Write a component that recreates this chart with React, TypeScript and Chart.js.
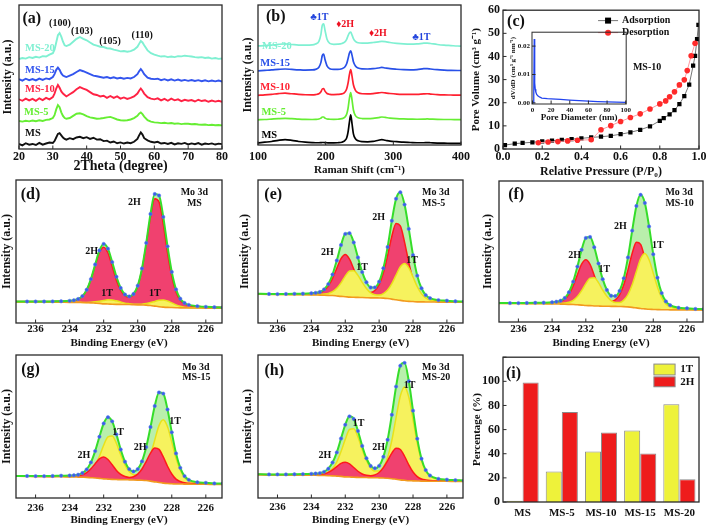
import React, { useEffect, useRef } from 'react';
import { Chart, registerables } from 'chart.js';

Chart.register(...registerables);

const F = '"Liberation Serif", "Times New Roman", serif';
Chart.defaults.font.family = F;
Chart.defaults.color = '#111';

// ---------------- (a) XRD ----------------
const XRD_X = [20,21,22,23,24,25,26,27,28,29,30,30.5,31,31.5,32,32.5,33,33.5,34,35,36,37,38,39,40,41,42,43,44,45,46,47,48,49,50,51,52,53,54,55,55.5,56,56.5,57,58,59,60,61,62,63,64,65,66,67,68,69,70,71,72,73,74,75,76,77,78,79,80];
const XRD_MS = [3.5,2.5,4,3,3.5,2.8,4.2,3,3.8,4.5,4.2,5.5,8,10.5,11,9.5,8,7,6.5,7.5,6.8,8,8.5,7.5,8.2,7,7.8,6.5,6.8,5.5,5.8,4.5,5.2,4,4.6,3.8,4.5,4,5,7,9.5,11.5,10,7.5,6,5,4.5,5,3.8,4.2,3.5,4.3,3.2,4,3.6,4.2,3.2,3.9,3.3,4.1,3,3.8,3.4,3.9,3.1,3.7,3.4];
const XRD_MS5 = [19.5,19,19.6,19.2,19.8,19.3,19.9,19.5,20.2,20.5,21.5,23.5,27.5,30.5,29,25.5,23,21.5,21,21.5,23,24.5,24.8,24,22.8,22,21.5,21,21.2,21.5,22,22.3,21.5,20.5,20,19.8,20,20.5,21.5,23,24.5,25.3,24.2,22.5,20,19,18.5,18.3,18,18.2,17.8,18,17.5,17.8,17.3,17.6,17.5,17.2,17.4,17,16.8,17,16.6,16.8,16.5,16.7,16.4];
const XRD_MS10 = [34.5,33.5,35,33.8,34.8,33.5,35.2,34,35.5,34.5,36,38.5,42,44.5,42.5,40,38.5,37.5,36.5,38,39.5,41.5,43,42,41,39.5,38,37.5,36.5,37,35.5,36.8,35.5,36.5,35,35.8,34.8,35.5,36.5,38.5,40.5,42,40.5,38.5,36,35,34.5,35.2,33.8,34.8,33.5,35,33.8,34.5,33.2,34.2,33.5,34,33,34.2,33.3,33.8,32.8,33.6,32.9,33.5,32.8];
const XRD_MS15 = [48.5,47.5,48.8,47.8,48.6,47.6,48.9,48,49,48.5,50,52,55,56.5,55,52.5,51,50.5,50,51,52,53.5,54.8,54,53,52,51,50.5,50,49.5,50,49.2,49.8,49,49.5,48.8,49.4,49,50,52,54,55.5,54,52,49.5,48.8,48.5,48.8,47.8,48.5,47.6,48.4,47.5,48.2,47.4,48,47.3,47.9,47.2,47.8,47.1,47.7,47,47.6,47,47.5,46.9];
const XRD_MS20 = [62.5,63.2,62.8,63.8,63.2,64,63.5,64.5,64.2,65.5,66.5,69,74,79,80.5,78,74.5,72,71.5,72.5,74.5,76.5,77.8,76.5,75.5,74,72.5,71.8,71,70.8,70,69.8,69,68.5,67.8,68,67.5,68,69,71,73,75,74,72,68.5,66.5,65.5,64.8,64.2,64.5,63.8,64.2,63.8,64.5,64.3,64.8,64.5,64.2,63.8,63.5,63.8,63.2,63.5,62.8,63.2,62.6,62.8];

// ---------------- (b) Raman ----------------
const RAMAN_X = [100,110,120,130,140,150,160,170,180,185,190,193,195,197,199,202,206,212,218,224,228,231,233,235,237,239,241,244,248,254,262,270,278,283,288,295,305,315,325,335,345,350,355,365,375,385,395,400];
const RAMAN_MS = [1.5,2,2.5,3.3,3.8,3.3,2.5,2,1.7,1.6,1.6,1.7,1.8,1.8,1.7,1.6,1.5,1.5,1.6,2,3,5,9,16,21.5,15,8,4.5,3,2.4,2.3,2.6,3.4,3.8,3.4,2.8,2.4,2,1.8,1.6,1.6,1.7,1.6,1.4,1.3,1.2,1.1,1.1];
const RAMAN_MS5 = [18,18.2,18.5,18.8,19,18.8,18.5,18.3,18.2,18.3,18.6,19.2,20,20,19.2,18.6,18.4,18.3,18.4,18.8,19.8,22,26,33,37.5,32,25,21,19.5,18.9,18.8,19,19.6,20,19.7,19.2,18.8,18.6,18.5,18.4,18.5,18.6,18.5,18.3,18.2,18.2,18.1,18.1];
const RAMAN_MS10 = [35.5,35.8,36.2,36.7,37,36.6,36.2,35.9,35.8,36,36.6,38,40,40.3,38.5,36.8,36.2,36,36.1,36.5,37.5,40,44,50,53.8,49,43,39,37.3,36.6,36.5,36.7,37.2,37.5,37.2,36.8,36.4,36.2,36.1,36.2,36.5,36.6,36.4,36,35.8,35.7,35.6,35.6];
const RAMAN_MS15 = [53,53.3,53.6,54,54.3,54,53.7,53.5,53.6,54,55.5,59,64,65,61,56.5,54.5,54,54,54.5,55.5,58,61.5,65.5,67.3,64,59.5,56.5,55,54.4,54.3,54.5,55,55.4,55,54.5,54.1,53.8,53.7,53.9,54.5,54.6,54.3,53.8,53.5,53.3,53.2,53.2];
const RAMAN_MS20 = [70.8,71,71.4,71.9,72.2,71.8,71.4,71.3,71.5,72.2,74,79,85.5,86.5,82,75.5,72.6,71.9,72,72.5,73.5,75.5,78,80,80.6,78.5,76,74,73,72.7,72.8,73.2,73.7,74,73.8,73.2,72.6,72.2,72,72.2,72.7,72.8,72.5,71.8,71.3,71,70.7,70.6];

// ---------------- (c) BET ----------------
const ADS_P = [0.01,0.06,0.1,0.15,0.2,0.25,0.3,0.35,0.4,0.45,0.5,0.55,0.6,0.65,0.7,0.75,0.8,0.82,0.85,0.875,0.9,0.925,0.95,0.97,0.98,0.99,0.997];
const ADS_V = [1.7,2.3,2.6,2.9,3.3,3.6,3.9,4.3,4.6,5.0,5.3,5.7,6.4,7.2,8.3,9.8,12.2,13.3,15.0,16.8,19.4,22.9,27.8,36.0,40.3,47.5,53.7];
const DES_P = [0.18,0.23,0.28,0.33,0.38,0.45,0.5,0.55,0.6,0.65,0.7,0.75,0.8,0.83,0.85,0.875,0.9,0.925,0.94,0.96,0.98];
const DES_V = [2.7,3.0,3.2,3.5,3.8,4.0,8.3,10.1,11.9,13.6,15.2,17.3,19.5,20.8,22.6,24.7,27.7,29.9,33.9,40.3,45.7];
const PSD_D = [0.8,1.2,1.6,1.9,2.2,2.6,3.0,3.6,4.5,6,8,10,13,16,20,25,30,40,50,60,70,80,90,100];
const PSD_V = [0.0,0.0,0.003,0.0225,0.016,0.007,0.0048,0.0038,0.003,0.0024,0.002,0.0017,0.0016,0.0015,0.0014,0.0013,0.0012,0.001,0.0008,0.0006,0.00045,0.00035,0.00025,0.0002];

// ---------------- (d)-(h) XPS Mo 3d ----------------
const XPS_X = [237.25,236.5,236,235.5,235,234.5,234,233.75,233.5,233.25,233,232.75,232.5,232.25,232,231.75,231.5,231.25,231,230.75,230.5,230.25,230,229.75,229.5,229.25,229,228.75,228.5,228.25,228,227.75,227.5,227.25,227,226.5,226,225.5,225];
const BASE_MS = [14.8,14.7,14.7,14.6,14.6,14.5,14.4,14.4,14.4,14.3,14.2,14.1,13.9,13.7,13.4,13.3,13.1,13.0,13.0,12.9,12.9,12.8,12.7,12.6,12.5,12.2,11.8,11.4,11.1,10.9,10.8,10.7,10.6,10.6,10.5,10.5,10.4,10.4,10.4];
const H2_MS = [0.2,0.3,0.3,0.4,0.5,0.7,1.0,1.4,2.3,4.4,8.8,16.2,26.1,35.5,39.6,35.8,26.5,16.8,9.8,6.0,5.1,7.1,13.0,24.9,42.4,61.9,75.1,73.3,58.1,38.2,21.6,10.8,5.3,2.9,1.9,1.2,0.8,0.6,0.5];
const T1_MS = [0,0,0,0,0,0,0.1,0.1,0.1,0.1,0.2,0.4,0.9,1.5,2.3,2.9,3.0,2.5,1.7,1.0,0.6,0.4,0.4,0.6,1.1,2.1,3.3,4.5,5.0,4.5,3.3,2.0,1.1,0.5,0.3,0.1,0.1,0.1,0];
const BASE_MS5 = [20.1,20.0,19.9,19.9,19.8,19.8,19.7,19.6,19.5,19.4,19.3,19.2,18.9,18.6,18.4,18.1,18.0,17.9,17.8,17.7,17.6,17.6,17.5,17.4,17.1,16.7,16.2,15.8,15.4,15.1,15.0,14.8,14.8,14.7,14.7,14.6,14.6,14.5,14.5];
const H2_MS5 = [0.2,0.2,0.2,0.3,0.4,0.5,0.8,1.1,1.7,3.3,6.5,12.0,19.4,26.4,29.5,26.5,19.7,12.5,7.2,4.4,3.7,5.1,9.3,17.7,30.1,44.0,53.4,52.1,41.2,27.2,15.3,7.7,3.8,2.0,1.3,0.8,0.6,0.4,0.3];
const T1_MS5 = [0.1,0.1,0.1,0.1,0.2,0.2,0.3,0.4,0.5,0.8,1.4,2.7,5.4,9.5,14.4,18.2,18.6,15.4,10.6,6.4,3.5,2.2,2.1,3.2,5.9,10.8,17.3,23.5,26.2,23.5,17.2,10.6,5.7,2.8,1.4,0.6,0.4,0.3,0.2];
const BASE_MS10 = [13.2,13.1,13.1,13.0,13.0,12.9,12.8,12.8,12.7,12.6,12.5,12.4,12.2,12.0,11.7,11.6,11.4,11.3,11.2,11.2,11.1,11.1,11.0,10.9,10.7,10.4,10.0,9.6,9.3,9.0,8.9,8.8,8.7,8.7,8.6,8.6,8.6,8.5,8.5];
const H2_MS10 = [0.2,0.2,0.2,0.3,0.4,0.5,0.8,1.1,1.8,3.5,7.1,13.2,21.3,29.0,32.4,29.2,21.6,13.6,7.7,4.5,3.5,4.6,8.2,15.5,26.3,38.4,46.5,45.4,35.9,23.7,13.4,6.7,3.3,1.8,1.2,0.7,0.5,0.4,0.3];
const T1_MS10 = [0.1,0.1,0.1,0.2,0.2,0.3,0.4,0.5,0.6,0.9,1.5,3.0,5.8,10.2,15.5,19.5,20.0,16.6,11.5,7.0,4.0,2.7,2.8,4.6,8.8,16.0,25.8,35.2,39.2,35.1,25.7,15.9,8.5,4.1,2.1,0.8,0.6,0.4,0.3];
const BASE_MS15 = [15.2,15.1,15.0,15.0,14.9,14.9,14.7,14.7,14.6,14.5,14.4,14.2,14.0,13.7,13.4,13.2,13.0,12.9,12.8,12.8,12.7,12.6,12.5,12.4,12.2,11.8,11.3,10.8,10.4,10.1,10.0,9.8,9.8,9.7,9.7,9.6,9.6,9.5,9.5];
const H2_MS15 = [0.1,0.1,0.1,0.1,0.2,0.3,0.4,0.5,0.9,1.7,3.3,6.2,10.0,13.6,15.2,13.7,10.2,6.4,3.7,2.2,1.7,2.3,4.2,7.9,13.4,19.6,23.7,23.2,18.3,12.1,6.8,3.4,1.7,0.9,0.6,0.4,0.3,0.2,0.2];
const T1_MS15 = [0.1,0.2,0.2,0.2,0.3,0.4,0.6,0.7,0.8,1.3,2.3,4.5,8.8,15.5,23.5,29.6,30.4,25.2,17.4,10.4,5.8,3.7,3.5,5.3,10.0,18.2,29.3,39.8,44.3,39.7,29.1,18.0,9.6,4.7,2.4,1.0,0.7,0.5,0.4];
const BASE_MS20 = [16.3,16.2,16.2,16.1,16.1,16.0,15.9,15.9,15.8,15.7,15.6,15.5,15.3,15.1,14.8,14.7,14.5,14.4,14.3,14.3,14.2,14.2,14.1,14.0,13.8,13.5,13.1,12.7,12.4,12.1,12.0,11.9,11.8,11.8,11.7,11.7,11.7,11.6,11.6];
const H2_MS20 = [0.1,0.1,0.1,0.1,0.1,0.2,0.3,0.4,0.6,1.1,2.3,4.2,6.7,9.1,10.2,9.2,6.8,4.3,2.5,1.6,1.4,2.0,3.7,7.2,12.3,17.9,21.7,21.2,16.8,11.1,6.2,3.1,1.5,0.8,0.5,0.3,0.2,0.2,0.1];
const T1_MS20 = [0.2,0.2,0.2,0.3,0.4,0.5,0.7,0.8,1.0,1.5,2.6,5.1,9.9,17.4,26.2,33.2,34.0,28.2,19.6,11.9,6.8,4.6,4.7,7.6,14.6,26.8,43.1,58.6,65.3,58.5,42.9,26.5,14.2,6.9,3.5,1.4,0.9,0.7,0.5];

// ---------------- (i) phase percentage ----------------
const SAMPLES = ['MS', 'MS-5', 'MS-10', 'MS-15', 'MS-20'];
const PCT_1T = [1, 25.3, 41.8, 59.2, 81];
const PCT_2H = [99, 74.5, 57.5, 40.2, 18.8];

// ---------------- helpers ----------------
type Geo = { l: number; t: number; w: number; h: number; x0: number; x1: number; y0: number; y1: number };
type Txt = { t: string; x: number; y: number; c?: string; s?: number; a?: CanvasTextAlign };

const GA: Geo = { l: 1, t: 0, w: 232, h: 175, x0: 19, x1: 222, y0: 5, y1: 149 };
const GB: Geo = { l: 241, t: 0, w: 234, h: 177, x0: 258, x1: 463, y0: 5, y1: 145 };
const GC: Geo = { l: 470, t: 0, w: 239, h: 179, x0: 503, x1: 699, y0: 5, y1: 149 };
const GIN: Geo = { l: 509, t: 26, w: 124, h: 97, x0: 532, x1: 627, y0: 31, y1: 104 };
const GD: Geo = { l: 0, t: 172, w: 232, h: 178, x0: 16, x1: 222, y0: 180, y1: 323 };
const GE: Geo = { l: 238, t: 172, w: 237, h: 178, x0: 258, x1: 463, y0: 180, y1: 323 };
const GF: Geo = { l: 481, t: 172, w: 228, h: 178, x0: 499, x1: 703, y0: 181, y1: 322 };
const GG: Geo = { l: 0, t: 347, w: 232, h: 180, x0: 16, x1: 222, y0: 355, y1: 498 };
const GH: Geo = { l: 241, t: 347, w: 234, h: 180, x0: 258, x1: 463, y0: 355, y1: 498 };
const GI: Geo = { l: 471, t: 347, w: 238, h: 181, x0: 503, x1: 699, y0: 355, y1: 502 };

const fnt = (s: number) => ({ family: F, size: s, weight: 'bold' as any });

function makeDeco(spec: { texts?: Txt[]; tickX?: boolean; tickY?: boolean; keys?: any[]; boxes?: any[]; lw?: number }) {
  return {
    id: 'deco',
    afterDraw(chart: any) {
      const { ctx, chartArea: ca } = chart;
      const xs = chart.scales.x, ys = chart.scales.y;
      const X = (v: number) => xs.getPixelForValue(v);
      const Y = (v: number) => ys.getPixelForValue(v);
      ctx.save();
      (spec.boxes || []).forEach((b: any) => {
        const x0 = X(b.x0), x1 = X(b.x1), y0 = Y(b.y0), y1 = Y(b.y1);
        ctx.fillStyle = b.fill;
        ctx.fillRect(x0, y0, x1 - x0, y1 - y0);
        ctx.strokeStyle = '#8a8a8a';
        ctx.lineWidth = 1;
        ctx.strokeRect(x0, y0, x1 - x0, y1 - y0);
        ctx.fillStyle = '#111';
        ctx.font = `bold ${b.s || 11}px ${F}`;
        ctx.textAlign = 'left';
        ctx.textBaseline = 'middle';
        ctx.fillText(b.label, X(b.tx), Y(b.ty));
      });
      (spec.keys || []).forEach((k: any) => {
        const y = Y(k.y);
        ctx.strokeStyle = k.line;
        ctx.lineWidth = 1;
        ctx.beginPath();
        ctx.moveTo(X(k.x0), y);
        ctx.lineTo(X(k.x1), y);
        ctx.stroke();
        const mx = (X(k.x0) + X(k.x1)) / 2;
        ctx.fillStyle = k.mc;
        if (k.mk === 'rect') ctx.fillRect(mx - 3, y - 3, 6, 6);
        else { ctx.beginPath(); ctx.arc(mx, y, 3, 0, Math.PI * 2); ctx.fill(); }
        ctx.fillStyle = '#111';
        ctx.font = `bold ${k.s || 10}px ${F}`;
        ctx.textAlign = 'left';
        ctx.textBaseline = 'middle';
        ctx.fillText(k.label, X(k.tx), y);
      });
      (spec.texts || []).forEach((t) => {
        ctx.font = `bold ${t.s || 10}px ${F}`;
        ctx.fillStyle = t.c || '#111';
        ctx.textAlign = t.a || 'center';
        ctx.textBaseline = 'middle';
        ctx.fillText(t.t, X(t.x), Y(t.y));
      });
      ctx.strokeStyle = '#2a2a2a';
      ctx.lineWidth = spec.lw || 1.3;
      ctx.strokeRect(ca.left, ca.top, ca.right - ca.left, ca.bottom - ca.top);
      ctx.lineWidth = 1;
      if (spec.tickX) {
        xs.ticks.forEach((tk: any) => {
          const p = X(tk.value);
          ctx.beginPath(); ctx.moveTo(p, ca.bottom); ctx.lineTo(p, ca.bottom - 3.5); ctx.stroke();
        });
      }
      if (spec.tickY) {
        ys.ticks.forEach((tk: any) => {
          const p = Y(tk.value);
          ctx.beginPath(); ctx.moveTo(ca.left, p); ctx.lineTo(ca.left + 3.5, p); ctx.stroke();
        });
      }
      ctx.restore();
    },
  };
}

function xAxis(g: Geo, o: any) {
  const ticks: any = { font: fnt(o.ts), padding: o.tp, maxRotation: 0, autoSkip: false, color: '#111', includeBounds: false };
  if (o.step !== undefined) ticks.stepSize = o.step;
  if (o.cb) ticks.callback = o.cb;
  const ax: any = {
    type: o.type || 'linear',
    grid: { display: false, drawTicks: false },
    border: { display: false },
    ticks,
    title: { display: !!o.title, text: o.title || '', font: fnt(o.tts || 12), padding: 0, color: '#111' },
    afterFit: (s: any) => { s.height = g.t + g.h - g.y1; },
  };
  if (o.min !== undefined) ax.min = o.min;
  if (o.max !== undefined) ax.max = o.max;
  if (o.reverse) ax.reverse = true;
  return ax;
}

function yAxis(g: Geo, o: any) {
  const ticks: any = { display: !!o.showTicks, font: fnt(o.ts || 12), padding: o.tp || 3, color: '#111', includeBounds: false };
  if (o.step !== undefined) ticks.stepSize = o.step;
  if (o.cb) ticks.callback = o.cb;
  return {
    type: 'linear',
    min: o.min,
    max: o.max,
    grid: { display: false, drawTicks: false },
    border: { display: false },
    ticks,
    title: { display: true, text: o.title, font: fnt(o.tts || 12), padding: 0, color: '#111' },
    afterFit: (s: any) => { s.width = g.x0 - g.l; },
  };
}

function baseOptions(g: Geo, x: any, y: any) {
  return {
    responsive: false,
    animation: false,
    devicePixelRatio: 1,
    layout: { padding: { left: 0, top: g.y0 - g.t, right: g.l + g.w - g.x1, bottom: 0 } },
    plugins: { legend: { display: false }, tooltip: { enabled: false } },
    elements: { point: { radius: 0 } },
    scales: { x, y },
  };
}

const pts = (xs: number[], ys: number[]) => xs.map((x, i) => ({ x, y: ys[i] }));

const C_CYAN = '#7ff0d2';
const C_BLUE = '#3355ee';
const C_RED = '#ff2244';
const C_GREEN = '#66ee33';
const C_BLACK = '#111111';

// ---------------- chart configs ----------------
function makeA() {
  const series = [
    { d: XRD_MS20, c: C_CYAN }, { d: XRD_MS15, c: C_BLUE }, { d: XRD_MS10, c: C_RED },
    { d: XRD_MS5, c: C_GREEN }, { d: XRD_MS, c: C_BLACK },
  ];
  const texts: Txt[] = [
    { t: '(a)', x: 23.8, y: 90.3, s: 16 },
    { t: '(100)', x: 32.1, y: 87.5 },
    { t: '(103)', x: 38.6, y: 81.9 },
    { t: '(105)', x: 46.9, y: 75 },
    { t: '(110)', x: 56.4, y: 79.2 },
    { t: 'MS-20', x: 21.8, y: 70.1, c: C_CYAN, a: 'left', s: 10.5 },
    { t: 'MS-15', x: 21.8, y: 54.9, c: C_BLUE, a: 'left', s: 10.5 },
    { t: 'MS-10', x: 21.8, y: 41.7, c: C_RED, a: 'left', s: 10.5 },
    { t: 'MS-5', x: 21.5, y: 25.7, c: C_GREEN, a: 'left', s: 10.5 },
    { t: 'MS', x: 21.8, y: 11.1, c: C_BLACK, a: 'left', s: 10.5 },
  ];
  return {
    type: 'line',
    data: { datasets: series.map((s) => ({ data: pts(XRD_X, s.d), borderColor: s.c, borderWidth: 1.9, pointRadius: 0, tension: 0 })) },
    options: baseOptions(GA,
      xAxis(GA, { min: 20, max: 80, step: 10, ts: 12, tp: 1, title: '2Theta (degree)', tts: 14 }),
      yAxis(GA, { min: 0, max: 100, title: 'Intensity (a.u.)', tts: 12 })),
    plugins: [makeDeco({ texts, tickX: true })],
  };
}

function makeB() {
  const series = [
    { d: RAMAN_MS20, c: C_CYAN }, { d: RAMAN_MS15, c: '#2850e8' }, { d: RAMAN_MS10, c: '#ff2030' },
    { d: RAMAN_MS5, c: C_GREEN }, { d: RAMAN_MS, c: '#000000' },
  ];
  const texts: Txt[] = [
    { t: '(b)', x: 126.3, y: 91.4, s: 16 },
    { t: '\u26631T', x: 190.7, y: 91.4, c: '#2244dd' },
    { t: '\u26662H', x: 228.8, y: 86.1, c: '#ee1122' },
    { t: '\u26662H', x: 277.1, y: 79.5, c: '#ee1122' },
    { t: '\u26631T', x: 341.5, y: 77.1, c: '#2244dd' },
    { t: 'MS-20', x: 106, y: 70.2, c: C_CYAN, a: 'left', s: 10.5 },
    { t: 'MS-15', x: 103.5, y: 58.4, c: '#2850e8', a: 'left', s: 10.5 },
    { t: 'MS-10', x: 103.5, y: 41.1, c: '#ff2030', a: 'left', s: 10.5 },
    { t: 'MS-5', x: 105, y: 23.2, c: C_GREEN, a: 'left', s: 10.5 },
    { t: 'MS', x: 105, y: 7.1, c: '#000', a: 'left', s: 10.5 },
  ];
  return {
    type: 'line',
    data: { datasets: series.map((s) => ({ data: pts(RAMAN_X, s.d), borderColor: s.c, borderWidth: 1.7, pointRadius: 0, cubicInterpolationMode: 'monotone' })) },
    options: baseOptions(GB,
      xAxis(GB, { min: 100, max: 400, step: 100, ts: 12, tp: 5, title: 'Raman Shift (cm\u207B\u00B9)', tts: 11 }),
      yAxis(GB, { min: 0, max: 100, title: 'Intensity (a.u.)', tts: 12 })),
    plugins: [makeDeco({ texts, tickX: true })],
  };
}

function makeC() {
  const texts: Txt[] = [
    { t: '(c)', x: 0.066, y: 55.1, s: 16 },
    { t: 'MS-10', x: 0.735, y: 35.4, s: 10 },
  ];
  const keys = [
    { x0: 0.485, x1: 0.587, y: 55.5, line: '#777777', mk: 'rect', mc: '#000', label: 'Adsorption', tx: 0.607 },
    { x0: 0.485, x1: 0.587, y: 50.3, line: '#ff9aa0', mk: 'circle', mc: '#ff2a2a', label: 'Desorption', tx: 0.607 },
  ];
  return {
    type: 'line',
    data: {
      datasets: [
        { data: pts(DES_P, DES_V), borderColor: '#ff9aa0', borderWidth: 1, pointStyle: 'circle', pointRadius: 2.8, pointBackgroundColor: '#ff2a2a', pointBorderColor: '#ff2a2a', pointBorderWidth: 0 },
        { data: pts(ADS_P, ADS_V), borderColor: '#777777', borderWidth: 1, pointStyle: 'rect', pointRadius: 3, pointBackgroundColor: '#000', pointBorderColor: '#000', pointBorderWidth: 0 },
      ],
    },
    options: baseOptions(GC,
      xAxis(GC, { min: 0, max: 1, step: 0.2, ts: 12, tp: 1, title: 'Relative Pressure (P/P\u2080)', tts: 12, cb: (v: any) => Number(v).toFixed(1) }),
      yAxis(GC, { min: 0, max: 60, step: 10, showTicks: true, ts: 12, tp: 3, title: 'Pore Volume (cm\u00B3 g\u207B\u00B9)', tts: 11 })),
    plugins: [makeDeco({ texts, keys, tickX: true, tickY: true })],
  };
}

function makeInset() {
  return {
    type: 'line',
    data: { datasets: [{ data: pts(PSD_D, PSD_V), borderColor: '#2244ee', borderWidth: 1.3, pointRadius: 0 }] },
    options: baseOptions(GIN,
      xAxis(GIN, { min: -0.5, max: 100.5, step: 20, ts: 7, tp: 2, title: 'Pore Diameter (nm)', tts: 9 }),
      yAxis(GIN, { min: -0.0004, max: 0.0249, step: 0.01, showTicks: true, ts: 7, tp: 2, title: 'dV/dD (cm\u00B3 g\u207B\u00B9 nm\u207B\u00B9)', tts: 7, cb: (v: any) => Number(v).toFixed(2) })),
    plugins: [makeDeco({ tickX: true, tickY: true, lw: 1 })],
  };
}

function makeXps(g: Geo, base: number[], h2: number[], t1: number[], redOnTop: boolean, texts: Txt[], tp: number) {
  const red = base.map((b, i) => b + h2[i]);
  const yel = base.map((b, i) => b + t1[i]);
  const env = base.map((b, i) => b + h2[i] + t1[i]);
  const curve = { pointRadius: 0, cubicInterpolationMode: 'monotone' };
  return {
    type: 'line',
    data: {
      datasets: [
        { ...curve, data: pts(XPS_X, env), showLine: false, pointRadius: 1.7, pointBackgroundColor: '#3b5ee8', pointBorderColor: '#5a7cf2', pointBorderWidth: 0.5, order: 0 },
        { ...curve, data: pts(XPS_X, env), borderColor: '#35dd2a', borderWidth: 2, fill: false, order: 1 },
        { ...curve, data: pts(XPS_X, base), borderColor: '#f29a1e', borderWidth: 1.6, fill: false, order: 2 },
        { ...curve, data: pts(XPS_X, red), borderColor: '#ff1a1a', borderWidth: 1.5, backgroundColor: '#f0416f', fill: 2, order: redOnTop ? 3 : 4 },
        { ...curve, data: pts(XPS_X, yel), borderColor: '#e9e21a', borderWidth: 1.5, backgroundColor: '#f6f25e', fill: 2, order: redOnTop ? 4 : 3 },
        { ...curve, data: pts(XPS_X, env), borderColor: 'rgba(0,0,0,0)', borderWidth: 0, backgroundColor: '#b9efac', fill: 2, order: 5 },
      ],
    },
    options: baseOptions(g,
      xAxis(g, { min: 225.05, max: 237.15, reverse: true, step: 2, ts: 11, tp, title: 'Binding Energy (eV)', tts: 11 }),
      yAxis(g, { min: 0, max: 100, title: 'Intensity (a.u.)', tts: 12 })),
    plugins: [makeDeco({ texts, tickX: true })],
  };
}

const makeD = () => makeXps(GD, BASE_MS, H2_MS, T1_MS, false, [
  { t: '(d)', x: 236.3, y: 89.5, s: 16 },
  { t: 'Mo 3d', x: 226.67, y: 91.6 },
  { t: 'MS', x: 226.67, y: 83.9 },
  { t: '2H', x: 230.2, y: 84.6 },
  { t: '2H', x: 232.7, y: 50.3 },
  { t: '1T', x: 231.8, y: 21 },
  { t: '1T', x: 229.0, y: 21 },
], 0);

const makeE = () => makeXps(GE, BASE_MS5, H2_MS5, T1_MS5, false, [
  { t: '(e)', x: 236.25, y: 89.5, s: 16 },
  { t: 'Mo 3d', x: 227.47, y: 91.6, a: 'left' },
  { t: 'MS-5', x: 227.47, y: 83.9, a: 'left' },
  { t: '2H', x: 233.05, y: 49.5 },
  { t: '1T', x: 231.0, y: 39 },
  { t: '2H', x: 230.03, y: 74 },
  { t: '1T', x: 228.05, y: 44 },
], 0);

const makeF = () => makeXps(GF, BASE_MS10, H2_MS10, T1_MS10, false, [
  { t: '(f)', x: 236.13, y: 89.9, s: 16 },
  { t: 'Mo 3d', x: 227.28, y: 92, a: 'left' },
  { t: 'MS-10', x: 227.28, y: 84.2, a: 'left' },
  { t: '2H', x: 232.67, y: 47.3 },
  { t: '1T', x: 230.9, y: 37.4 },
  { t: '2H', x: 229.95, y: 67.9 },
  { t: '1T', x: 227.73, y: 54.4 },
], 1);

const makeG = () => makeXps(GG, BASE_MS15, H2_MS15, T1_MS15, true, [
  { t: '(g)', x: 236.3, y: 89.5, s: 16 },
  { t: 'Mo 3d', x: 227.39, y: 91.6, a: 'left' },
  { t: 'MS-15', x: 227.39, y: 84, a: 'left' },
  { t: '1T', x: 231.15, y: 45.6 },
  { t: '2H', x: 233.16, y: 29.5 },
  { t: '2H', x: 229.86, y: 35.1 },
  { t: '1T', x: 227.8, y: 53.9 },
], 4);

const makeH = () => makeXps(GH, BASE_MS20, H2_MS20, T1_MS20, true, [
  { t: '(h)', x: 236.19, y: 88.9, s: 16 },
  { t: 'Mo 3d', x: 227.47, y: 91.6, a: 'left' },
  { t: 'MS-20', x: 227.47, y: 84, a: 'left' },
  { t: '1T', x: 228.2, y: 79 },
  { t: '1T', x: 231.22, y: 52.5 },
  { t: '2H', x: 233.2, y: 29.5 },
  { t: '2H', x: 230.03, y: 35.1 },
], 3);

function makeI() {
  const boxes = [
    { x0: 3.35, x1: 3.89, y0: 114.3, y1: 105.3, fill: '#eef23a', label: '1T', tx: 4.02, ty: 109.8 },
    { x0: 3.35, x1: 3.89, y0: 103.7, y1: 95.5, fill: '#ee1c1c', label: '2H', tx: 4.02, ty: 99.6 },
  ];
  return {
    type: 'bar',
    data: {
      labels: SAMPLES,
      datasets: [
        { data: PCT_1T, backgroundColor: '#eef23a', borderColor: '#8a8a8a', borderWidth: 1, categoryPercentage: 0.82, barPercentage: 1 },
        { data: PCT_2H, backgroundColor: '#ee1c1c', borderColor: '#8a8a8a', borderWidth: 1, categoryPercentage: 0.82, barPercentage: 1 },
      ],
    },
    options: baseOptions(GI,
      xAxis(GI, { type: 'category', ts: 11, tp: 5 }),
      yAxis(GI, { min: 0, max: 120, step: 20, showTicks: true, ts: 12, tp: 3, title: 'Percentage (%)', tts: 11, cb: (v: any) => (Number(v) >= 120 ? '' : String(v)) })),
    plugins: [makeDeco({ texts: [{ t: '(i)', x: -0.23, y: 106.1, s: 16 }], boxes, tickY: true })],
  };
}

function ChartBox({ g, make }: { g: Geo; make: () => any }) {
  const ref = useRef<HTMLCanvasElement | null>(null);
  useEffect(() => {
    const chart = new Chart(ref.current as HTMLCanvasElement, make());
    return () => chart.destroy();
  }, []);
  return (
    <canvas
      ref={ref}
      width={g.w}
      height={g.h}
      style={{ position: 'absolute', left: g.l, top: g.t, width: g.w, height: g.h }}
    />
  );
}

export default function App() {
  return (
    <div style={{ position: 'absolute', left: 0, top: 0, width: 709, height: 528, background: '#ffffff', overflow: 'hidden' }}>
      <ChartBox g={GA} make={makeA} />
      <ChartBox g={GB} make={makeB} />
      <ChartBox g={GC} make={makeC} />
      <ChartBox g={GIN} make={makeInset} />
      <ChartBox g={GD} make={makeD} />
      <ChartBox g={GE} make={makeE} />
      <ChartBox g={GF} make={makeF} />
      <ChartBox g={GG} make={makeG} />
      <ChartBox g={GH} make={makeH} />
      <ChartBox g={GI} make={makeI} />
    </div>
  );
}
